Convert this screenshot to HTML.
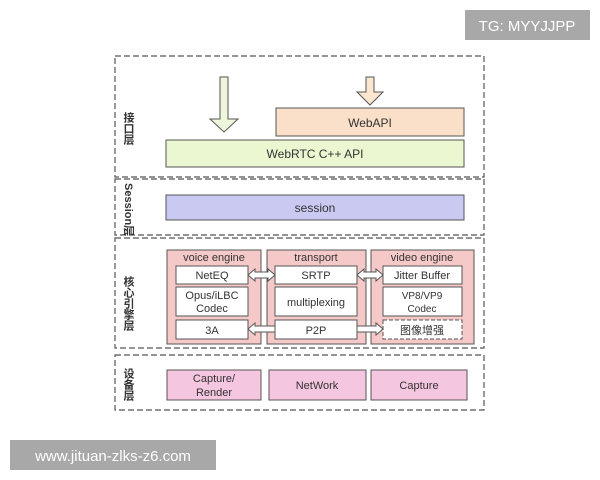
<!DOCTYPE html>
<html><head><meta charset="utf-8"><style>
html,body{margin:0;padding:0;background:#fff;width:600px;height:480px;overflow:hidden}
svg text{font-family:"Liberation Sans","Noto Sans CJK SC",sans-serif;fill:#333}
</style></head><body>
<svg width="600" height="480" viewBox="0 0 600 480" xmlns="http://www.w3.org/2000/svg">
<g fill="none" stroke="#555" stroke-width="1.2" stroke-dasharray="6,3">
<rect x="115" y="56" width="369" height="121"/>
<rect x="115" y="179" width="369" height="56"/>
<rect x="115" y="238" width="369" height="110"/>
<rect x="115" y="355" width="369" height="55"/>
</g>
<!-- arrows -->
<polygon points="220,77 228,77 228,119 238,119 224,132 210,119 220,119" fill="#eef7dc" stroke="#555" stroke-width="1"/>
<polygon points="366,77 374,77 374,92 383,92 370,105 357,92 366,92" fill="#fbe6cf" stroke="#555" stroke-width="1"/>
<rect x="276" y="108" width="188" height="28" fill="#fbe0c9" stroke="#555"/>
<text x="370" y="127" font-size="12" text-anchor="middle">WebAPI</text>
<rect x="166" y="140" width="298" height="27" fill="#eaf7d0" stroke="#555"/>
<text x="315" y="158" font-size="12" text-anchor="middle">WebRTC C++ API</text>
<rect x="166" y="195" width="298" height="25" fill="#c9c9f2" stroke="#555"/>
<text x="315" y="212" font-size="12" text-anchor="middle">session</text>
<!-- side labels -->
<text x="128" y="112" font-size="11" font-weight="bold" writing-mode="tb" text-anchor="start">接口层</text>
<text transform="translate(125,183) rotate(90)" font-size="11" font-weight="bold">Session层</text>
<text x="128" y="276" font-size="11" font-weight="bold" writing-mode="tb">核心引擎层</text>
<text x="128" y="368" font-size="11" font-weight="bold" writing-mode="tb">设备层</text>
<!-- containers -->
<g fill="#f6c9c9" stroke="#555">
<rect x="167" y="250" width="94" height="94"/>
<rect x="267" y="250" width="99" height="94"/>
<rect x="371" y="250" width="103" height="94"/>
</g>
<g font-size="11" text-anchor="middle">
<text x="214" y="261">voice engine</text>
<text x="316" y="261">transport</text>
<text x="422" y="261">video engine</text>
</g>
<g fill="#fff" stroke="#555">
<rect x="176" y="266" width="72" height="18"/>
<rect x="176" y="287" width="72" height="29"/>
<rect x="176" y="320" width="72" height="19"/>
<rect x="275" y="266" width="82" height="18"/>
<rect x="275" y="287" width="82" height="29"/>
<rect x="275" y="320" width="82" height="19"/>
<rect x="383" y="266" width="79" height="18"/>
<rect x="383" y="287" width="79" height="29"/>
<rect x="383" y="320" width="79" height="19" stroke-dasharray="4,2"/>
</g>
<g font-size="11" text-anchor="middle">
<text x="212" y="279">NetEQ</text>
<text x="212" y="299">Opus/iLBC</text>
<text x="212" y="312">Codec</text>
<text x="212" y="334">3A</text>
<text x="316" y="279">SRTP</text>
<text x="316" y="306">multiplexing</text>
<text x="316" y="334">P2P</text>
<text x="422" y="279">Jitter Buffer</text>
<text x="422" y="299" font-size="10">VP8/VP9</text>
<text x="422" y="312" font-size="10">Codec</text>
<text x="422" y="334">图像增强</text>
</g>
<g fill="#fff" stroke="#555" stroke-width="1">
<polygon points="248,275 255,269 255,272 268,272 268,269 275,275 268,281 268,278 255,278 255,281"/>
<polygon points="357,275 364,269 364,272 376,272 376,269 383,275 376,281 376,278 364,278 364,281"/>
<polygon points="248,329 255,323 255,326 275,326 275,332 255,332 255,335"/>
<polygon points="357,326 376,326 376,323 383,329 376,335 376,332 357,332"/>
</g>
<g fill="#f5c6e0" stroke="#555">
<rect x="167" y="370" width="94" height="30"/>
<rect x="269" y="370" width="97" height="30"/>
<rect x="371" y="370" width="96" height="30"/>
</g>
<g font-size="11" text-anchor="middle">
<text x="214" y="382">Capture/</text>
<text x="214" y="396">Render</text>
<text x="317" y="389">NetWork</text>
<text x="419" y="389">Capture</text>
</g>
<rect x="465" y="10" width="125" height="30" fill="#a8a8a8"/>
<text x="527" y="31" font-size="15" text-anchor="middle" style="fill:#fff">TG: MYYJJPP</text>
<rect x="10" y="440" width="206" height="30" fill="#a8a8a8"/>
<text x="113" y="461" font-size="15" text-anchor="middle" style="fill:#fff">www.jituan-zlks-z6.com</text>
</svg>
</body></html>
